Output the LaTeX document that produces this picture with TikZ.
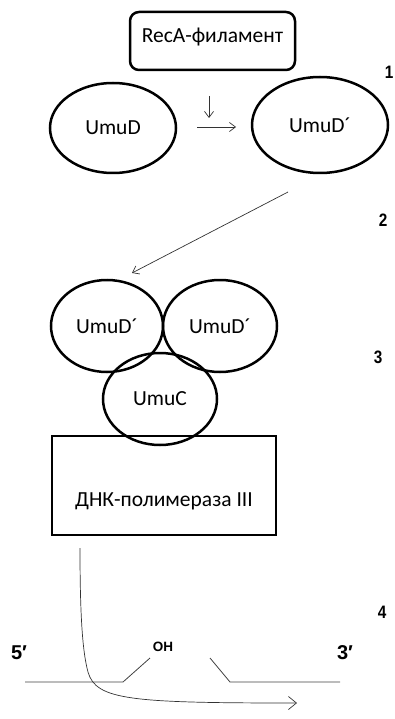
\documentclass[tikz,border=0pt]{standalone}
\usepackage{fontspec}
\setmainfont{Carlito}
\newfontfamily\numfont{Liberation Sans}
\usetikzlibrary{shapes.geometric, positioning, arrows.meta}

\begin{document}
\begin{tikzpicture}[
    x=1pt, y=-1pt,
    protein/.style={ellipse, draw, line width=2.5pt, inner sep=0pt, font=\fontsize{21.5}{24}\selectfont},
    box/.style={rectangle, draw, line width=2.5pt, inner sep=0pt, font=\fontsize{21.5}{24}\selectfont},
    thin arrow/.style={-{Straight Barb[length=6pt, width=9pt]}, line width=0.7pt, black!80},
    strand/.style={line width=0.8pt, black!75},
    stepnum/.style={font=\numfont\bfseries\fontsize{18}{20}\selectfont, xscale=0.85},
    endlabel/.style={font=\numfont\bfseries\fontsize{20}{22}\selectfont}
]
\useasboundingbox (0,0) rectangle (395,719);

% Activation of UmuD
\node[box, rounded corners=9pt, minimum width=165pt, minimum height=58pt, text depth=12pt] (reca) at (212.5,41) {RecA-филамент};
\node[protein, minimum width=126pt, minimum height=90pt] (umud) at (113,128) {UmuD};
\node[protein, minimum width=136pt, minimum height=96pt] (umudp) at (320,125) {UmuD´};
\coordinate (downs) at (209,96);
\coordinate (downe) at (209,118);
\coordinate (rights) at (197,127);
\coordinate (righte) at (236,127);
\draw[thin arrow] (downs) -- (downe);
\draw[thin arrow] (rights) -- (righte);

% Assembly of the complex
\coordinate (links) at (288,192);
\coordinate (linke) at (132,273);
\draw[thin arrow] (links) -- (linke);
\node[protein, minimum width=112pt, minimum height=92pt] (dleft) at (107,326) {UmuD´};
\node[protein, minimum width=114pt, minimum height=92pt] (dright) at (220,326) {UmuD´};
\node[protein, minimum width=114pt, minimum height=92pt] (umuc) at (160,399) {UmuC};
\node[box, minimum width=224pt, minimum height=99pt, text height=45pt] (pol) at (164,485.5) {ДНК-полимераза III};

% DNA template with the gap
\coordinate (l1) at (25,682);
\coordinate (l2) at (123,682);
\coordinate (l3) at (150,658);
\coordinate (r1) at (210,658);
\coordinate (r2) at (230,682);
\coordinate (r3) at (340,682);
\draw[strand] (l1) -- (l2) -- (l3);
\draw[strand] (r1) -- (r2) -- (r3);
\node[font=\numfont\bfseries\fontsize{13.5}{15}\selectfont] (oh) at (163,647) {OH};
\node[endlabel] (five) at (19,653) {5′};
\node[endlabel] (three) at (345,653) {3′};

% Bypass synthesis
\coordinate (syns) at (80,548);
\coordinate (syne) at (297,703);
\draw[-{Straight Barb[length=8pt, width=13pt]}, line width=0.7pt, black!80]
    (syns) .. controls (80,610) and (82,650) .. (88,672)
    .. controls (96,700) and (130,703) .. (syne);

% Step numbers
\node[stepnum] (n1) at (389,72) {1};
\node[stepnum] (n2) at (383,220) {2};
\node[stepnum] (n3) at (378,357) {3};
\node[stepnum] (n4) at (382,612) {4};

\end{tikzpicture}
\end{document}
